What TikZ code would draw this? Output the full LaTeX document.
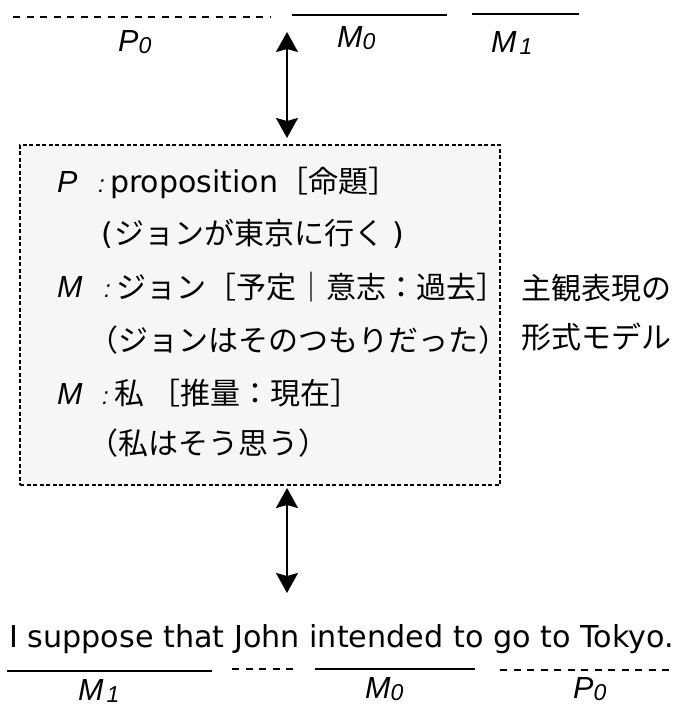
\documentclass[tikz,border=0pt]{standalone}
\usepackage{fontspec}
\setmainfont{DejaVu Sans}
\newfontfamily\jp{Noto Sans CJK JP}
\newfontfamily\labfont{Liberation Sans}
\usetikzlibrary{arrows.meta}
\definecolor{boxfill}{HTML}{F5F6F5}
\newcommand\labtxt[3]{{\fontsize{30.5}{30.5}\selectfont\labfont\itshape #1}\kern#3{\fontsize{23}{23}\selectfont\labfont\itshape\raisebox{-2pt}{#2}}}
\begin{document}
\begin{tikzpicture}[x=1pt,y=-1pt,
  solidline/.style={line width=2pt},
  dashline/.style={line width=2pt, dash pattern=on 7pt off 6.5pt},
  boxstyle/.style={draw, line width=2pt, dash pattern=on 4pt off 2.5pt, fill=boxfill, minimum width=480pt, minimum height=340pt, inner sep=0pt},
  txt/.style={anchor=base west, inner sep=0pt, font=\fontsize{30}{30}\selectfont},
  lab/.style={anchor=base west, inner sep=0pt},
  colon/.style={anchor=base west, inner sep=0pt, font=\fontsize{24}{24}\selectfont\labfont\itshape},
  biarrow/.style={line width=2pt, {Stealth[length=20pt,width=22pt,inset=3pt]}-{Stealth[length=20pt,width=22pt,inset=3pt]}}
]
\useasboundingbox (0,0) rectangle (684,706);

% top segment lines
\coordinate (tpA) at (13,17);  \coordinate (tpB) at (271,17);
\coordinate (tm0A) at (292,15); \coordinate (tm0B) at (447,15);
\coordinate (tm1A) at (472,14); \coordinate (tm1B) at (579,14);
\draw[dashline] (tpA) -- (tpB);
\draw[solidline] (tm0A) -- (tm0B);
\draw[solidline] (tm1A) -- (tm1B);
\node[lab] (tP0) at (118,52) {\labtxt{P}{0}{0pt}};
\node[lab] (tM0) at (337,48) {\labtxt{M}{0}{0pt}};
\node[lab] (tM1) at (491,53) {\labtxt{M}{1}{3pt}};

% box
\node[boxstyle] (box) at (260,315) {};

% box contents
\node[lab] (l1lab) at (57,192) {\labtxt{P}{}{0pt}};
\node[colon] (l1col) at (98,192) {:};
\node[txt] (l1txt) at (110,192) {proposition{\jp ［命題］}};
\node[txt] (l2txt) at (101,244) {(\kern2pt{\jp ジョンが東京に行く}\kern8pt)};
\node[lab] (l3lab) at (57,297) {\labtxt{M}{}{0pt}};
\node[colon] (l3col) at (104,297) {:};
\node[txt] (l3txt) at (116,298) {\jp ジョン［予定｜意志：過去］};
\node[txt] (l4txt) at (88,351) {\jp （ジョンはそのつもりだった）};
\node[lab] (l5lab) at (57,404) {\labtxt{M}{}{0pt}};
\node[colon] (l5col) at (102,404) {:};
\node[txt] (l5txt) at (114,404) {\jp 私\kern6pt［推量：現在］};
\node[txt] (l6txt) at (88,454) {\jp （私はそう思う）};

% right caption
\node[txt] (cap1) at (521,299) {\jp 主観表現の};
\node[txt] (cap2) at (521,348) {\jp 形式モデル};

% arrows
\coordinate (upTop) at (287,32);
\coordinate (dnBot) at (287,593);
\draw[biarrow, shorten >=6pt] (upTop) -- (box.north -| upTop);
\draw[biarrow, shorten <=2pt] (box.south -| dnBot) -- (dnBot);

% sentence
\node[txt, font=\fontsize{30.2}{30.2}\selectfont] (sent) at (9,647) {I suppose that John intended to go to Tokyo.};

% bottom segment lines
\coordinate (bm1A) at (7,671);   \coordinate (bm1B) at (212,671);
\coordinate (bdA) at (232,669);  \coordinate (bdB) at (297,669);
\coordinate (bm0A) at (315,669); \coordinate (bm0B) at (475,669);
\coordinate (bpA) at (500,670);  \coordinate (bpB) at (673,670);
\draw[solidline] (bm1A) -- (bm1B);
\draw[dashline] (bdA) -- (bdB);
\draw[solidline] (bm0A) -- (bm0B);
\draw[dashline] (bpA) -- (bpB);
\node[lab] (bM1) at (78,700) {\labtxt{M}{1}{3pt}};
\node[lab] (bM0) at (365,698) {\labtxt{M}{0}{0pt}};
\node[lab] (bP0) at (573,698) {\labtxt{P}{0}{0pt}};
\end{tikzpicture}
\end{document}
